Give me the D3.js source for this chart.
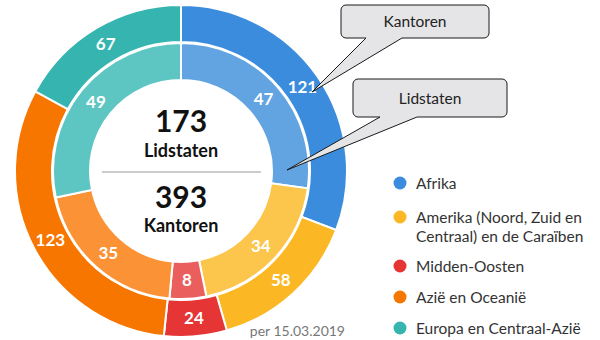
<!DOCTYPE html>
<html>
<head>
<meta charset="utf-8">
<script src="https://cdn.jsdelivr.net/npm/d3@7/dist/d3.min.js"></script>
<style>
  html, body { margin: 0; padding: 0; background: #fff; }
  svg { display: block; font-family: Lato, "Open Sans", sans-serif; }
</style>
</head>
<body>
<svg id="chart" width="600" height="340"></svg>
<script>
// Regions of the organisation
const regions = ["Afrika", "Amerika (Noord, Zuid en Centraal) en de Caraïben", "Midden-Oosten", "Azië en Oceanië", "Europa en Centraal-Azië"];
const legendLines = [["Afrika"], ["Amerika (Noord, Zuid en", "Centraal) en de Caraïben"], ["Midden-Oosten"], ["Azië en Oceanië"], ["Europa en Centraal-Azië"]];
// Offices per region (outer ring) and member states per region (inner ring)
const kantoren = [121, 58, 24, 123, 67];
const lidstaten = [47, 34, 8, 35, 49];
const outerColors = ["#3b8cdd", "#fbb824", "#e53535", "#f77600", "#36b5b0"];
const innerColors = ["#62a3e1", "#fcc54b", "#eb5e5e", "#fb9235", "#5ec6c2"];
const dateText = "per 15.03.2019";

const svg = d3.select("#chart");
const cx = 181, cy = 171;

const pie = d3.pie().sort(null).value(d => d);
const outerArc = d3.arc().innerRadius(129).outerRadius(166);
const innerArc = d3.arc().innerRadius(91).outerRadius(128);

const g = svg.append("g").attr("transform", `translate(${cx},${cy})`);

function ring(values, colors, arc, cls) {
  const arcs = pie(values);
  const grp = g.append("g").attr("class", cls);
  grp.selectAll("path").data(arcs).join("path")
    .attr("d", arc)
    .attr("fill", (d, i) => colors[i])
    .attr("stroke", "#fff")
    .attr("stroke-width", 2);
  grp.selectAll("text").data(arcs).join("text")
    .attr("transform", d => `translate(${arc.centroid(d)})`)
    .attr("text-anchor", "middle")
    .attr("dy", "0.36em")
    .attr("fill", "#fff")
    .attr("font-weight", "bold")
    .attr("font-size", 17)
    .text(d => d.data);
}
ring(kantoren, outerColors, outerArc, "outer");
ring(lidstaten, innerColors, innerArc, "inner");

// Totals in the centre
const totalL = d3.sum(lidstaten), totalK = d3.sum(kantoren);
const center = g.append("g").attr("fill", "#111").attr("text-anchor", "middle").attr("font-weight", "bold");
center.append("text").attr("y", -39).attr("font-size", 30).text(totalL);
center.append("text").attr("y", -14).attr("font-size", 18).text("Lidstaten");
g.append("line").attr("x1", -79).attr("x2", 80).attr("y1", 1).attr("y2", 1)
  .attr("stroke", "#999").attr("stroke-width", 1.2);
center.append("text").attr("y", 37).attr("font-size", 30).text(totalK);
center.append("text").attr("y", 61).attr("font-size", 18).text("Kantoren");

// Callouts naming each ring
function callout(x, y, w, h, t1, t2, tip, label) {
  const r = 5;
  const path = d3.path();
  path.moveTo(x + r, y);
  path.lineTo(x + w - r, y);
  path.arcTo(x + w, y, x + w, y + r, r);
  path.lineTo(x + w, y + h - r);
  path.arcTo(x + w, y + h, x + w - r, y + h, r);
  path.lineTo(t2, y + h);
  path.lineTo(tip[0], tip[1]);
  path.lineTo(t1, y + h);
  path.lineTo(x + r, y + h);
  path.arcTo(x, y + h, x, y + h - r, r);
  path.lineTo(x, y + r);
  path.arcTo(x, y, x + r, y, r);
  path.closePath();
  svg.append("path").attr("d", path.toString())
    .attr("fill", "#e5e5e7").attr("stroke", "#1a1a1a").attr("stroke-width", 1);
  svg.append("text").attr("x", x + w / 2).attr("y", y + h / 2)
    .attr("dy", "0.36em").attr("text-anchor", "middle")
    .attr("font-size", 15.5).attr("fill", "#222").text(label);
}
callout(341, 5, 148, 33, 366, 402, [312, 92], "Kantoren");
callout(353, 79, 154, 38, 380, 417, [287, 170], "Lidstaten");

// Legend
const legendY = [183, 217, 266, 297, 328];
const leg = svg.append("g");
regions.forEach((r, i) => {
  leg.append("circle").attr("cx", 400).attr("cy", legendY[i]).attr("r", 6.5).attr("fill", outerColors[i]);
  legendLines[i].forEach((line, j) => {
    leg.append("text").attr("x", 416).attr("y", legendY[i] + j * 19)
      .attr("dy", "0.36em").attr("font-size", 15.5).attr("fill", "#333").text(line);
  });
});

svg.append("text").attr("x", 345).attr("y", 331).attr("dy", "0.36em")
  .attr("text-anchor", "end").attr("font-size", 14).attr("fill", "#777").text(dateText);
</script>
</body>
</html>
